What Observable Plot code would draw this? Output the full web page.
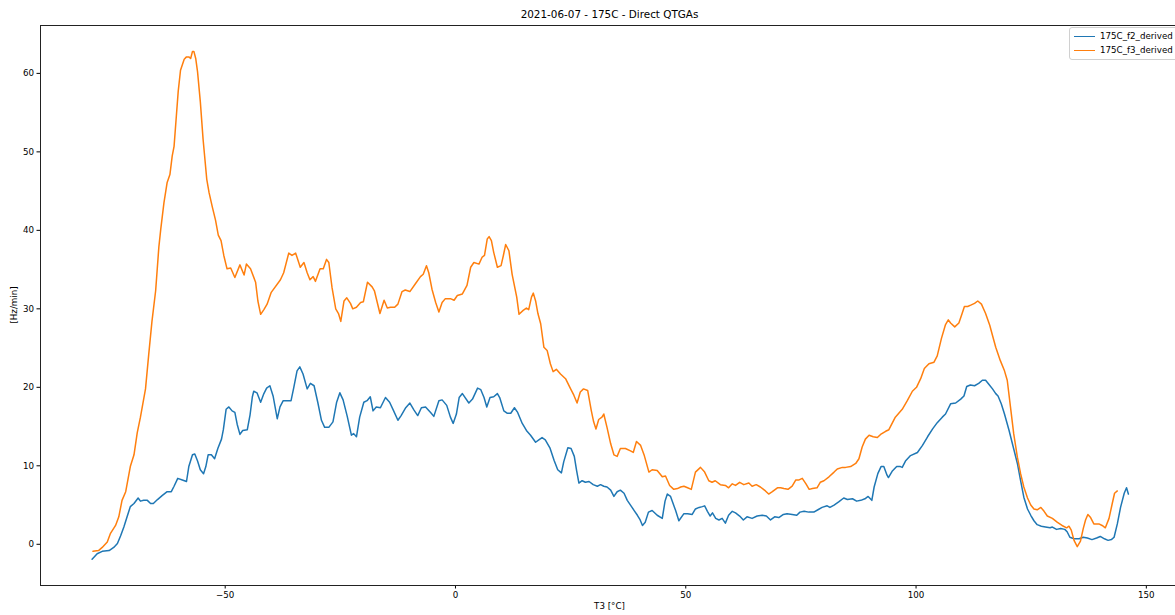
<!DOCTYPE html>
<html><head><meta charset="utf-8">
<script src="https://cdn.jsdelivr.net/npm/d3@7"></script>
<script src="https://cdn.jsdelivr.net/npm/@observablehq/plot@0.6"></script>
<style>
html,body{margin:0;padding:0;background:#fff;overflow:hidden;width:1175px;height:615px;}
#wrap{position:relative;width:1175px;height:615px;overflow:hidden;font-family:"DejaVu Sans",sans-serif;color:#000;}
#title{position:absolute;top:8px;left:0;width:1219px;text-align:center;font-size:10.4px;}
#xlabel{position:absolute;top:601px;left:0;width:1219px;text-align:center;font-size:8.7px;}
#ylabel{position:absolute;left:14px;top:305px;font-size:8.7px;transform:translate(-50%,-50%) rotate(-90deg);white-space:nowrap;}
#legend{position:absolute;left:1069px;top:27px;width:130px;height:31px;border:1px solid #d0d0d0;border-radius:3px;background:#fff;font-size:8.7px;}
.item{position:absolute;left:4px;height:12px;line-height:12px;white-space:nowrap;}
.sw{display:inline-block;width:21px;height:0;border-top:1.5px solid;vertical-align:middle;margin-right:5px;}
#chart{position:absolute;left:0;top:0;width:1200px;}
#chart svg{max-width:none !important;}
</style>
</head><body>
<div id="wrap">
  <div id="chart"></div>
  <div id="title"></div>
  <div id="xlabel"></div>
  <div id="ylabel"></div>
  <div id="legend"></div>
</div>
<script>
const titleText = "2021-06-07 - 175C - Direct QTGAs";
const seriesNames = ["175C_f2_derived", "175C_f3_derived"];
const seriesColors = ["#1f77b4", "#ff7f0e"];
const xTicks = [-50, 0, 50, 100, 150];
const yTicks = [0, 10, 20, 30, 40, 50, 60];
const xLabel = "T3 [°C]";
const yLabel = "[Hz/min]";

const f2X = [-78.9,-77.8,-76.7,-75.2,-74.2,-73.4,-72.7,-72.0,-71.3,-70.6,-69.8,-68.9,-68.4,-67.7,-66.9,-66.2,-65.6,-64.7,-63.7,-62.6,-61.7,-61.1,-60.3,-59.3,-58.4,-57.9,-57.1,-56.6,-56.0,-55.4,-54.7,-54.2,-53.7,-53.0,-52.3,-51.6,-50.8,-50.4,-49.8,-49.2,-48.5,-47.9,-47.4,-46.8,-46.2,-45.2,-44.6,-44.1,-43.8,-43.1,-42.3,-41.6,-41.0,-40.3,-39.6,-38.7,-38.1,-37.4,-36.5,-35.7,-35.1,-34.4,-33.8,-33.1,-32.2,-31.5,-30.7,-29.9,-29.1,-28.4,-27.5,-26.6,-25.8,-25.1,-24.4,-23.5,-22.6,-22.1,-21.5,-20.8,-19.9,-19.2,-18.5,-17.9,-17.2,-16.3,-15.2,-14.3,-13.5,-12.5,-11.8,-10.8,-9.9,-9.0,-8.2,-7.4,-6.5,-5.4,-4.7,-3.6,-2.9,-1.9,-1.1,-0.5,0.2,0.8,1.5,2.9,3.7,4.8,5.5,6.2,6.8,7.5,8.3,9.1,9.6,10.5,11.2,12.0,12.8,13.5,14.5,15.4,16.3,17.4,18.1,18.8,19.5,20.5,21.4,22.2,23.0,23.5,24.4,25.1,25.8,26.3,26.8,27.5,28.2,29.0,29.9,30.8,31.5,32.2,32.9,33.7,34.4,35.1,35.8,36.6,37.3,38.0,38.8,39.5,40.1,40.6,41.2,41.9,42.7,43.8,44.9,45.5,46.0,46.7,47.8,48.5,49.6,50.4,51.4,52.1,52.9,53.6,54.1,54.7,55.3,55.8,56.5,57.2,57.9,58.6,59.3,60.1,60.8,61.7,62.5,63.3,64.4,65.5,66.6,67.5,68.4,69.3,70.2,71.2,72.0,73.1,74.1,74.8,75.7,76.7,77.8,78.7,79.6,80.7,81.3,82.2,83.2,84.3,85.1,86.2,87.1,88.0,88.9,89.6,90.4,90.9,91.7,92.4,93.0,93.7,94.0,94.8,95.8,96.6,97.0,97.7,98.8,100.3,101.4,102.5,103.6,104.6,105.7,106.4,107.5,108.6,109.7,110.4,111.0,111.8,112.7,113.6,114.4,115.1,115.8,116.6,117.3,117.8,118.5,119.2,120.2,121.1,122.0,122.7,123.4,124.2,124.9,125.6,126.3,127.2,128.1,129.1,129.6,130.5,131.4,132.3,132.8,133.4,134.3,135.4,136.3,137.2,138.2,139.2,140.0,140.9,141.7,142.4,143.0,143.7,144.4,145.2,145.7,146.1];
const f2Y = [-1.9,-1.2,-0.9,-0.8,-0.4,0.1,1.1,2.2,3.5,4.8,5.2,5.9,5.5,5.6,5.6,5.2,5.2,5.7,6.2,6.7,6.7,7.4,8.4,8.2,8.0,9.9,11.4,11.5,10.6,9.5,9.0,9.9,11.4,11.4,10.9,12.2,13.4,14.6,17.2,17.5,17.0,16.8,15.3,14.0,14.5,14.6,16.5,18.8,19.5,19.3,18.1,19.2,19.9,20.2,18.9,16.0,17.5,18.3,18.3,18.3,20.0,22.1,22.6,21.7,19.8,20.5,20.2,18.1,15.8,14.9,14.9,15.6,18.1,19.3,18.4,16.3,13.9,14.1,13.7,16.2,18.1,18.3,18.8,17.0,17.5,17.4,18.7,18.1,17.1,15.8,16.4,17.4,18.0,17.1,16.4,17.4,17.5,16.8,16.3,18.3,18.4,17.7,16.2,15.4,16.6,18.7,19.2,18.0,18.5,19.9,19.7,18.7,17.5,18.7,18.8,19.2,18.7,17.0,16.7,16.7,17.4,16.8,15.4,14.5,13.9,13.0,13.3,13.6,13.3,12.3,10.7,9.5,9.1,10.5,12.3,12.2,11.2,9.4,7.8,8.1,7.9,8.0,7.6,7.4,7.6,7.4,7.3,6.9,6.1,6.7,6.9,6.5,5.6,5.0,4.3,3.7,3.1,2.4,2.8,4.1,4.3,3.7,3.3,5.5,6.4,6.1,4.3,3.0,3.9,3.9,3.8,4.5,4.7,4.8,4.9,4.2,3.6,4.0,3.3,3.1,3.3,2.7,3.7,4.2,4.0,3.6,3.1,3.5,3.3,3.6,3.7,3.6,3.1,3.5,3.4,3.8,3.9,3.8,3.7,4.1,4.2,4.1,4.1,4.4,4.7,4.9,4.7,5.0,5.4,5.9,5.7,5.8,5.5,5.6,5.8,6.1,5.6,7.3,9.0,9.9,9.9,8.8,8.5,9.3,9.9,9.9,9.8,10.6,11.3,11.7,12.6,13.7,14.7,15.5,16.2,16.6,17.9,18.0,18.5,18.9,20.1,20.3,20.2,20.5,20.9,20.9,20.4,19.8,19.2,18.9,17.9,16.6,14.5,12.4,10.3,8.1,6.0,4.5,3.7,3.0,2.5,2.3,2.2,2.1,2.2,1.9,2.0,1.9,1.6,0.9,0.7,0.7,0.9,0.8,0.6,0.8,1.0,0.7,0.5,0.6,0.9,2.6,4.7,6.5,7.2,6.4];

const f3X = [-78.7,-77.5,-76.7,-75.6,-74.9,-73.8,-73.1,-72.4,-71.6,-70.6,-69.8,-69.1,-68.4,-67.3,-66.6,-65.9,-65.1,-64.4,-64.0,-63.3,-62.6,-62.0,-61.5,-61.1,-60.6,-60.2,-59.7,-58.9,-58.4,-57.9,-57.5,-57.1,-56.8,-56.4,-56.0,-55.4,-54.8,-54.0,-53.5,-52.8,-52.1,-51.5,-50.9,-50.3,-49.6,-48.8,-47.9,-46.8,-45.9,-45.4,-44.5,-43.4,-42.9,-42.3,-41.6,-40.9,-40.0,-38.0,-37.3,-36.2,-35.5,-34.7,-33.7,-32.9,-32.2,-31.6,-30.9,-30.4,-29.4,-28.7,-28.0,-27.5,-26.8,-26.0,-25.4,-24.9,-24.2,-23.6,-22.8,-22.3,-21.5,-20.6,-20.0,-19.1,-18.1,-17.6,-16.4,-15.5,-14.8,-14.1,-13.2,-12.5,-11.6,-10.9,-9.9,-8.7,-7.6,-7.0,-6.3,-5.8,-5.1,-4.3,-3.6,-2.9,-2.2,-1.1,-0.3,0.4,1.5,2.5,3.3,4.0,5.1,5.8,6.3,6.9,7.3,7.8,8.3,9.1,9.9,10.4,10.9,11.6,12.3,13.3,13.8,14.7,15.4,15.9,16.5,16.9,17.4,17.9,18.5,19.2,19.9,20.6,21.2,21.9,22.8,23.9,25.0,25.7,26.4,27.1,27.8,28.7,29.5,30.0,30.5,31.1,31.8,32.2,32.9,33.7,34.4,35.1,35.8,36.9,38.0,38.6,39.3,40.2,41.0,42.0,42.7,43.8,44.9,45.6,46.5,47.4,48.2,48.9,49.6,50.4,51.2,52.1,53.2,54.1,55.0,55.7,56.4,57.5,58.6,59.3,60.1,60.8,61.7,62.6,63.7,64.4,65.3,66.2,67.3,68.0,68.8,69.9,70.6,71.3,72.2,73.1,73.9,74.6,75.3,76.1,76.8,77.5,78.5,79.2,80.0,81.1,82.2,82.9,84.0,84.7,85.8,86.9,87.6,88.3,89.0,89.8,90.7,91.6,92.3,93.4,94.1,95.5,97.0,98.1,99.2,100.1,101.0,101.8,102.8,103.9,104.6,105.5,106.4,107.0,107.5,108.4,109.3,110.0,110.5,111.2,112.0,112.7,113.4,114.2,115.1,116.0,116.6,117.3,118.3,119.2,119.8,120.5,121.2,122.0,122.7,123.4,124.2,124.9,125.6,126.3,127.1,127.8,128.5,129.6,130.7,131.7,132.7,133.2,133.7,134.3,135.0,135.7,136.3,136.8,137.3,137.9,138.6,139.7,140.4,141.1,141.9,142.6,143.1,143.7];
const f3Y = [-0.9,-0.8,-0.4,0.3,1.4,2.4,3.5,5.6,6.7,9.9,11.4,14.2,16.2,19.8,24.2,28.4,32.3,37.9,40.1,43.5,46.1,47.1,49.5,50.7,54.6,57.7,60.4,61.8,62.1,62.1,61.9,62.8,62.8,61.9,60.2,56.4,51.6,46.5,44.8,43.0,41.3,39.4,38.7,36.8,35.1,35.2,34.0,35.6,34.3,35.7,35.1,33.4,31.0,29.3,29.9,30.6,32.1,33.7,34.6,37.1,36.8,37.1,35.3,35.9,34.6,33.7,34.1,33.5,35.1,35.1,36.3,35.9,32.7,30.0,29.4,28.4,31.0,31.4,30.7,30.0,30.2,30.8,30.9,33.4,32.8,32.3,29.4,31.1,30.1,30.2,30.2,30.6,32.2,32.4,32.2,33.2,34.1,34.4,35.5,34.6,32.5,30.8,29.6,30.8,31.3,31.3,31.1,31.7,31.9,33.0,35.3,35.9,35.7,36.6,36.8,38.9,39.2,38.7,37.2,35.3,35.5,36.8,38.2,37.4,34.4,31.5,29.3,29.8,30.1,29.9,31.5,32.0,31.0,29.4,28.1,25.1,24.7,23.0,22.0,22.3,21.7,21.1,19.8,19.0,18.0,19.4,19.8,19.6,17.0,15.6,14.7,15.9,16.2,16.6,14.9,12.8,11.4,11.2,12.2,12.2,11.9,11.7,13.1,12.6,11.3,9.2,9.5,9.4,8.6,8.7,7.5,7.0,7.1,7.3,7.4,7.2,7.0,9.2,9.8,9.2,8.1,7.9,8.1,7.6,7.5,7.2,7.7,7.5,7.9,7.6,7.8,7.4,7.6,7.3,6.8,6.4,6.7,7.2,7.2,7.1,7.0,7.4,8.2,8.2,8.4,7.7,7.0,7.1,7.2,7.9,8.1,8.6,9.2,9.6,9.8,9.8,9.9,10.3,10.9,12.4,13.4,13.9,13.7,13.6,14.0,14.4,14.6,16.2,17.2,18.3,19.5,20.0,21.1,22.4,23.0,23.2,24.0,26.2,28.0,28.6,28.2,27.7,28.2,29.4,30.3,30.3,30.5,30.7,31.0,30.6,29.4,27.9,26.6,25.1,23.4,22.1,20.9,17.5,14.1,11.1,9.0,7.3,5.9,5.0,4.5,4.4,4.7,4.2,3.6,3.3,2.8,2.4,2.1,2.3,1.8,0.5,-0.3,0.4,2.0,3.1,3.8,3.4,2.6,2.6,2.4,2.1,3.3,5.2,6.5,6.8];

const f2 = f2X.map((x, i) => ({x, y: f2Y[i]}));
const f3 = f3X.map((x, i) => ({x, y: f3Y[i]}));

const chart = Plot.plot({
  width: 1200,
  height: 615,
  marginLeft: 40,
  marginRight: 21,
  marginTop: 25,
  marginBottom: 30,
  style: {fontFamily: "DejaVu Sans, sans-serif", fontSize: "8.7px", color: "#000", background: "#fff", maxWidth: "none"},
  x: {domain: [-90.1, 157.2], ticks: xTicks, tickSize: 3.5, tickPadding: 3, label: null},
  y: {domain: [-5.25, 66.1], ticks: yTicks, tickSize: 3.5, tickPadding: 3, label: null},
  marks: [
    Plot.line(f2, {x: "x", y: "y", stroke: seriesColors[0], strokeWidth: 1.5}),
    Plot.line(f3, {x: "x", y: "y", stroke: seriesColors[1], strokeWidth: 1.5}),
    Plot.frame({stroke: "#222", strokeWidth: 1})
  ]
});
chart.style.maxWidth = "none";
chart.style.width = "1200px";
chart.style.height = "615px";
document.getElementById("chart").appendChild(chart);
document.getElementById("title").textContent = titleText;
document.getElementById("xlabel").textContent = xLabel;
document.getElementById("ylabel").textContent = yLabel;
const lg = document.getElementById("legend");
seriesNames.forEach((n, i) => {
  const d = document.createElement("div");
  d.className = "item";
  d.style.top = (2 + i * 14) + "px";
  d.innerHTML = `<span class="sw" style="border-color:${seriesColors[i]}"></span>${n}`;
  lg.appendChild(d);
});
</script>
</body></html>
